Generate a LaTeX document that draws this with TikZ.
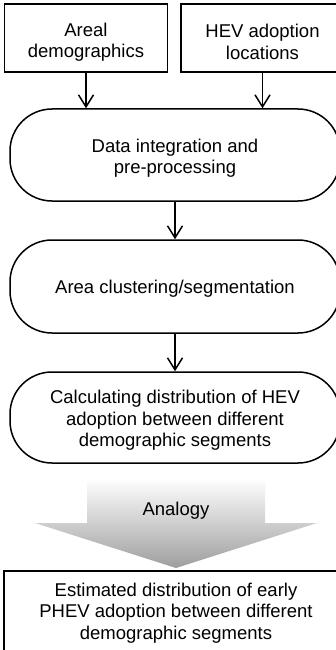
\documentclass[tikz,border=0pt]{standalone}
\usepackage{fontspec}
\setmainfont{Liberation Sans}
\usetikzlibrary{arrows.meta,calc}

\tikzset{
  txt/.style={font=\fontsize{18.5}{21.5}\selectfont, align=center, text=black, inner sep=0pt},
  inbox/.style={draw=black, line width=1.5pt, minimum width=163pt, minimum height=68pt, inner sep=0pt},
  roundbox/.style={draw=black, line width=1.5pt, rounded corners=42pt, minimum width=330pt, inner sep=0pt},
  outbox/.style={draw=black, line width=1.5pt, minimum width=344pt, minimum height=80pt, inner sep=0pt},
  flow/.style={line width=1.5pt, -{Straight Barb[length=12pt,width=15pt,line width=1.5pt]}},
}

\begin{document}
\begin{tikzpicture}[x=1pt,y=-1pt]
  \useasboundingbox (0,0) rectangle (336,650);
  \clip (0,0) rectangle (336,650);

  % inputs
  \node[inbox] (areal) at (86,38) {};
  \node[txt] (arealtxt) at ($(areal)+(0,4)$) {Areal\\demographics};
  \node[inbox] (hev) at (262.5,38) {};
  \node[txt] (hevtxt) at ($(hev)+(0,4)$) {HEV adoption\\locations};

  % processing steps
  \node[roundbox, minimum height=92pt] (integ) at (175,155) {};
  \node[txt] (integtxt) at ($(integ)+(0,3)$) {Data integration and\\pre-processing};
  \node[roundbox, minimum height=93pt] (clust) at (175,286.5) {};
  \node[txt] (clusttxt) at ($(clust)+(0,2)$) {Area clustering/segmentation};
  \node[roundbox, minimum height=91pt] (calc) at (175,417.5) {};
  \node[txt] (calctxt) at ($(calc)+(0,3)$) {Calculating distribution of HEV\\adoption between different\\demographic segments};

  % connectors
  \draw[flow] (areal.south) -- (areal.south |- integ.north);
  \draw[flow] (hev.south) -- (hev.south |- integ.north);
  \draw[flow] (integ.south) -- (clust.north);
  \draw[flow] (clust.south) -- (calc.north);

  % shaded analogy arrow
  \coordinate (tip) at (176,568);
  \shade[top color=white, bottom color=black!38]
    (87,478) -- (265,478) -- (265,523) -- (317,523) -- (tip) -- (35,523) -- (87,523) -- cycle;
  \node[txt] (analogy) at (176,511) {Analogy};

  % result
  \node[outbox] (est) at (176,611) {};
  \node[txt] (esttxt) at ($(est)+(0,2)$) {Estimated distribution of early\\PHEV adoption between different\\demographic segments};
\end{tikzpicture}
\end{document}
